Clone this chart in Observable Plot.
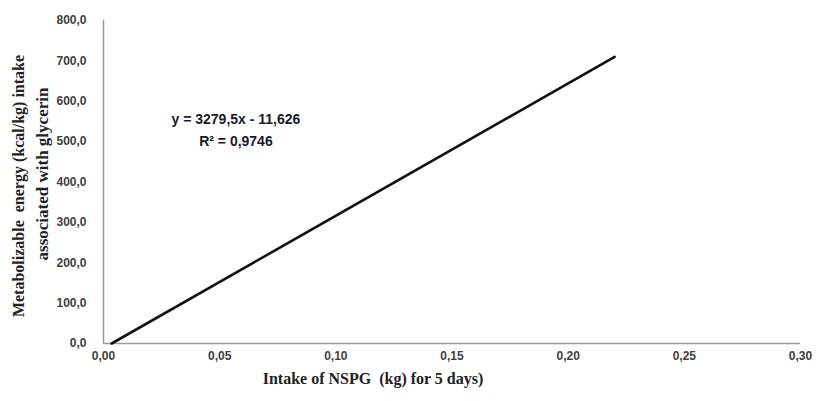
<!DOCTYPE html>
<html>
<head>
<meta charset="utf-8">
<script src="https://cdn.jsdelivr.net/npm/d3@7"></script>
<script src="https://cdn.jsdelivr.net/npm/@observablehq/plot@0.6"></script>
<style>
  html, body { margin: 0; padding: 0; background: #fff; }
</style>
</head>
<body>
<div id="chart"></div>
<script>
// Regression line endpoints (kg NSPG intake, kcal/kg ME)
const lineX = [0.0035, 0.22];
const lineY = [0, 709.9];
const xTicks = [0, 0.05, 0.10, 0.15, 0.20, 0.25, 0.30];
const yTicks = [0, 100, 200, 300, 400, 500, 600, 700, 800];
const equationLines = ["y = 3279,5x - 11,626", "R² = 0,9746"];
const annotX = [0.057, 0.057];
const annotY = [555, 500];
const xTitle = "Intake of NSPG  (kg) for 5 days)";
const yTitleLines = ["Metabolizable  energy (kcal/kg) intake", "associated with glycerin"];

const lineData = lineX.map((x, i) => ({x, y: lineY[i]}));
const annotData = equationLines.map((t, i) => ({t, x: annotX[i], y: annotY[i]}));
const commaFmt = (d) => (n) => n.toFixed(d).replace(".", ",");
const serif = "'Liberation Serif', 'Times New Roman', serif";

const chart = Plot.plot({
  width: 819,
  height: 401,
  marginLeft: 103,
  marginRight: 19,
  marginTop: 20,
  marginBottom: 58,
  style: {fontFamily: "'Liberation Sans', Arial, sans-serif", background: "#fff"},
  x: {domain: [0, 0.30]},
  y: {domain: [0, 800]},
  marks: [
    Plot.axisX(xTicks, {tickSize: 0, tickPadding: 8, tickFormat: commaFmt(2), fontSize: 12, fontWeight: "bold", fill: "#404040", label: null}),
    Plot.axisY(yTicks, {tickSize: 0, tickPadding: 17, tickFormat: commaFmt(1), fontSize: 12, fontWeight: "bold", fill: "#404040", label: null}),
    Plot.ruleY([0], {stroke: "#9a9a9a", strokeWidth: 1.5}),
    Plot.ruleX([0], {stroke: "#9a9a9a", strokeWidth: 1.5}),
    Plot.line(lineData, {x: "x", y: "y", stroke: "#111", strokeWidth: 2.6}),
    Plot.text(annotData, {x: "x", y: "y", text: "t", fontSize: 14, fontWeight: "bold", fill: "#1a1a2a", textAnchor: "middle"}),
    Plot.text([xTitle], {frameAnchor: "bottom", dx: -79, dy: 40, textAnchor: "middle", fontSize: 16, fontWeight: "bold", fontFamily: serif, fill: "#222"}),
    Plot.text([yTitleLines[0]], {frameAnchor: "left", textAnchor: "middle", dx: -85, dy: 4, rotate: -90, fontSize: 16, fontWeight: "bold", fontFamily: serif, fill: "#222"}),
    Plot.text([yTitleLines[1]], {frameAnchor: "left", textAnchor: "middle", dx: -61, dy: -8, rotate: -90, fontSize: 17, fontWeight: "bold", fontFamily: serif, fill: "#222"})
  ]
});
document.getElementById("chart").appendChild(chart);
</script>
</body>
</html>
